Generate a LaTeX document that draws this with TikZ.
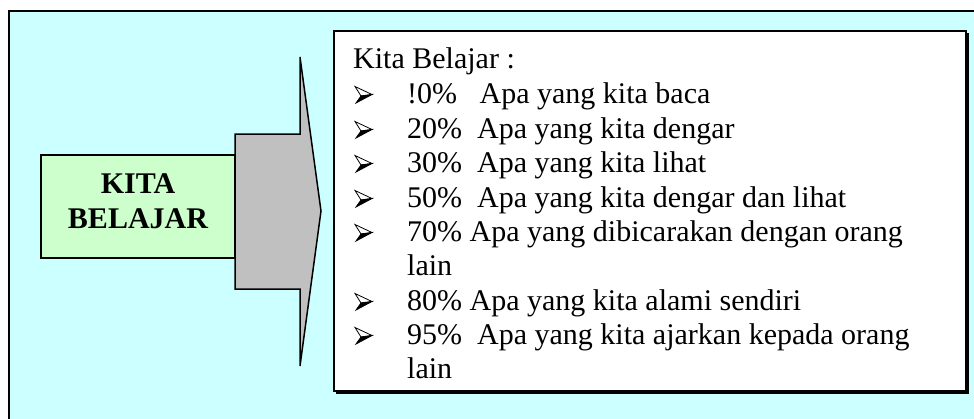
\documentclass[tikz,border=0pt]{standalone}
\usepackage{fontspec}
\setmainfont{Liberation Serif}
\definecolor{bgcyan}{HTML}{CCFFFF}
\definecolor{boxgreen}{HTML}{CCFFCC}
\definecolor{arrowgray}{HTML}{C0C0C0}
\tikzset{
  linetext/.style={anchor=base west, inner sep=0pt, font=\fontsize{30}{34}\selectfont},
  bullethead/.pic={
    \draw[line width=0.8pt, fill=white, line join=miter] (0,-16.5) -- (17,-8.5) -- (6,-7) -- cycle;
    \draw[line width=0.8pt, fill=black, line join=miter] (6,-7) -- (17,-8.5) -- (1,0) -- cycle;
  },
}
\begin{document}
\begin{tikzpicture}[x=1pt,y=-1pt]
\useasboundingbox (0,0) rectangle (974,418);
\clip (0,0) rectangle (974,418);
\fill[white] (0,0) rectangle (974,418);
% outer panel
\draw[line width=2pt, fill=bgcyan] (9,11) rectangle (990,440);
% arrow
\draw[line width=1.5pt, fill=arrowgray, line join=miter]
  (235,134) -- (300,134) -- (300,57) -- (321,211) -- (300,366) -- (300,289) -- (235,289) -- cycle;
% green box
\node[draw, line width=1.5pt, fill=boxgreen, minimum width=194pt, minimum height=103pt, inner sep=0pt] (kb) at (138,206.5) {};
\node[anchor=base, inner sep=0pt, font=\bfseries\fontsize{30}{35}\selectfont] (kb1) at (138,193) {KITA};
\node[anchor=base, inner sep=0pt, font=\bfseries\fontsize{30}{35}\selectfont] (kb2) at (138,228) {BELAJAR};
% text box shadow and box
\fill[black] (336,33) rectangle (969,394);
\draw[line width=1.5pt, fill=white] (334,31) rectangle (966,391);
\node[linetext] (l0) at (353,68) {Kita Belajar :};
\foreach \i/\y/\t in {
  1/103/{!0\%\ \ \ Apa yang kita baca},
  2/138/{20\%\ \ Apa yang kita dengar},
  3/172/{30\%\ \ Apa yang kita lihat},
  4/207/{50\%\ \ Apa yang kita dengar dan lihat},
  5/241/{70\% Apa yang dibicarakan dengan orang},
  7/310/{80\% Apa yang kita alami sendiri},
  8/344/{95\%\ \ Apa yang kita ajarkan kepada orang}} {
  \pic at (355,\y) {bullethead};
  \node[linetext] (l\i) at (407,\y) {\t};
}
\node[linetext] (l6) at (407,275) {lain};
\node[linetext] (l9) at (407,378) {lain};
\end{tikzpicture}
\end{document}
